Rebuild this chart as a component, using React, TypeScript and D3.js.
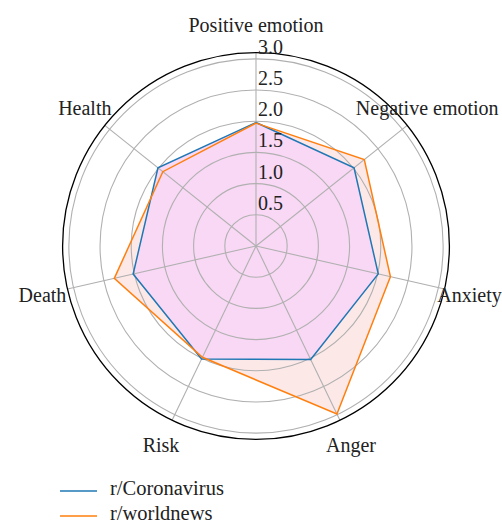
import React, { useEffect, useRef } from 'react';
import * as d3 from 'd3';

const categories = ['Positive emotion', 'Negative emotion', 'Anxiety', 'Anger', 'Risk', 'Death', 'Health'];
const coronavirus = [1.98, 2.01, 2.01, 2.02, 2.01, 2.02, 2.01];
const worldnews = [1.97, 2.22, 2.21, 2.99, 1.98, 2.33, 1.91];
const ringTicks = [0.5, 1.0, 1.5, 2.0, 2.5, 3.0];
const seriesNames = ['r/Coronavirus', 'r/worldnews'];

const App: React.FC = () => {
  const width = 502;
  const height = 522;
  const svgRef = useRef<SVGSVGElement>(null);

  useEffect(() => {
    if (!svgRef.current) return;
    const cx = 256;
    const cy = 246;
    const font = '"Liberation Serif", "DejaVu Serif", serif';

    const svg = d3.select(svgRef.current);
    svg.selectAll('*').remove();

    const r = d3.scaleLinear().domain([0, 3.1]).range([0, 193.4]);
    const angle = d3.scaleLinear().domain([0, categories.length]).range([0, 2 * Math.PI]);

    const g = svg.append('g').attr('transform', `translate(${cx},${cy})`);

    const radial = d3.lineRadial<number>()
      .angle((d, i) => angle(i))
      .radius(d => r(d))
      .curve(d3.curveLinearClosed);

    // fills (below grid)
    g.append('path').attr('d', radial(worldnews) || '').attr('fill', '#fde8e8');
    g.append('path').attr('d', radial(coronavirus) || '').attr('fill', '#f8d8f4');

    // rings
    g.selectAll('.ring')
      .data(ringTicks)
      .enter()
      .append('circle')
      .attr('r', d => r(d))
      .attr('fill', 'none')
      .attr('stroke', '#b0b0b0')
      .attr('stroke-width', 1.1);

    // spokes
    g.selectAll('.spoke')
      .data(categories)
      .enter()
      .append('line')
      .attr('x1', 0)
      .attr('y1', 0)
      .attr('x2', (d, i) => Math.sin(angle(i)) * r(3.1))
      .attr('y2', (d, i) => -Math.cos(angle(i)) * r(3.1))
      .attr('stroke', '#b0b0b0')
      .attr('stroke-width', 1.1);

    // outer spine
    g.append('circle')
      .attr('r', r(3.1))
      .attr('fill', 'none')
      .attr('stroke', '#000')
      .attr('stroke-width', 1.3);

    // series lines
    g.append('path')
      .attr('d', radial(coronavirus) || '')
      .attr('fill', 'none')
      .attr('stroke', '#1f77b4')
      .attr('stroke-width', 1.5);
    g.append('path')
      .attr('d', radial(worldnews) || '')
      .attr('fill', 'none')
      .attr('stroke', '#ff7f0e')
      .attr('stroke-width', 1.5);

    // ring labels
    g.selectAll('.rlabel')
      .data(ringTicks)
      .enter()
      .append('text')
      .attr('x', 2)
      .attr('y', d => -r(d) - 5)
      .attr('font-family', font)
      .attr('font-size', 20)
      .attr('fill', '#222')
      .text(d => d.toFixed(1));

    // category labels
    g.selectAll('.clabel')
      .data(categories)
      .enter()
      .append('text')
      .attr('x', (d, i) => Math.sin(angle(i)) * 219)
      .attr('y', (d, i) => -Math.cos(angle(i)) * 221)
      .attr('text-anchor', 'middle')
      .attr('dominant-baseline', 'central')
      .attr('font-family', font)
      .attr('font-size', 20)
      .attr('fill', '#222')
      .text(d => d);

    // legend
    const legend = svg.append('g');
    const colors = ['#1f77b4', '#ff7f0e'];
    seriesNames.forEach((name, i) => {
      const y = 491 + i * 25;
      legend.append('line')
        .attr('x1', 60).attr('x2', 97)
        .attr('y1', y).attr('y2', y)
        .attr('stroke', colors[i])
        .attr('stroke-width', 1.5);
      legend.append('text')
        .attr('x', 110)
        .attr('y', y - 3)
        .attr('dominant-baseline', 'central')
        .attr('font-family', font)
        .attr('font-size', 20.5)
        .attr('fill', '#222')
        .text(name);
    });
  }, []);

  return (
    <svg
      ref={svgRef}
      width={width}
      height={height}
      style={{ position: 'absolute', left: 0, top: 0, background: '#fff' }}
    ></svg>
  );
};

export default App;
